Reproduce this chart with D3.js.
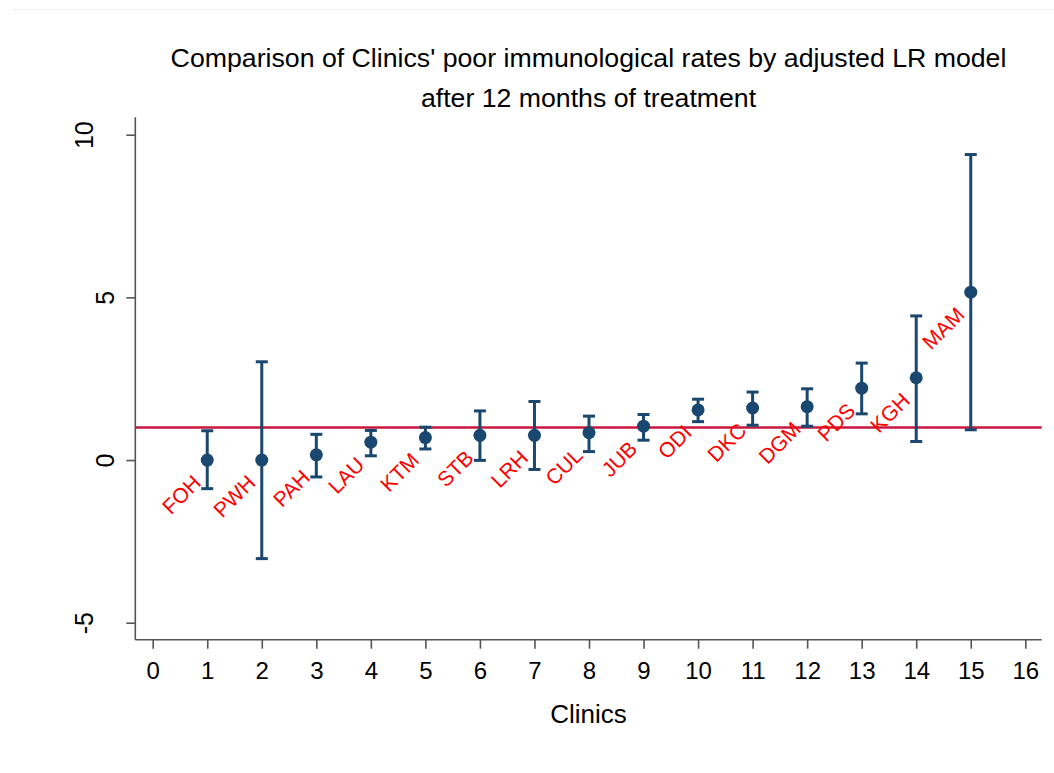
<!DOCTYPE html>
<html>
<head>
<meta charset="utf-8">
<script src="https://cdn.jsdelivr.net/npm/d3@7"></script>
<style>
  body { margin: 0; background: #fff; }
  text { font-family: "Liberation Sans", Arial, sans-serif; }
</style>
</head>
<body>
<div id="chart"></div>
<script>
// clinics, in the order they are plotted (x = 1..15)
var clinics = ["FOH", "PWH", "PAH", "LAU", "KTM", "STB", "LRH", "CUL", "JUB", "ODI", "DKC", "DGM", "PDS", "KGH", "MAM"];
var estimate = [0.00, 0.00, 0.16, 0.55, 0.69, 0.76, 0.76, 0.84, 1.04, 1.54, 1.60, 1.64, 2.21, 2.53, 5.16];
var upper = [0.90, 3.02, 0.79, 0.91, 1.01, 1.51, 1.80, 1.35, 1.40, 1.87, 2.09, 2.19, 2.98, 4.43, 9.39];
var lower = [-0.88, -3.03, -0.52, 0.13, 0.34, -0.01, -0.29, 0.26, 0.61, 1.18, 1.07, 1.04, 1.42, 0.57, 0.93];
var xTicks = d3.range(0, 17);
var yTicks = [-5, 0, 5, 10];
var refValue = 1;

var width = 1054, height = 773;
var navy = "#1a476f";

var svg = d3.select("#chart").append("svg")
    .attr("width", width)
    .attr("height", height);

// faint frame line at the top
svg.append("line")
    .attr("x1", 13).attr("x2", width)
    .attr("y1", 9.5).attr("y2", 9.5)
    .style("stroke", "#efefef");

var x = d3.scaleLinear().domain([0, 16]).range([152.7, 1025.3]);
var y = d3.scaleLinear().domain([-5, 10]).range([622.7, 134.7]);

var plotLeft = 135.3, plotRight = 1041.7, plotTop = 117.3, plotBottom = 639.7;

// y axis
var yAxis = svg.append("g")
    .attr("transform", "translate(" + plotLeft + ",0)")
    .call(d3.axisLeft(y).tickValues(yTicks).tickSize(9).tickSizeOuter(0).tickFormat(""));
yAxis.select(".domain").attr("d", "M0," + plotTop + "V" + plotBottom);

yAxis.selectAll(".tick").append("text")
    .attr("transform", function (d) {
        var s = String(d);
        var bx = -21 - 21.5 * (s.length - 1);
        return "translate(" + bx + ",0) rotate(-90)";
    })
    .attr("text-anchor", "middle")
    .attr("fill", "#000")
    .style("font-size", "25px")
    .text(function (d) { return d; });

// x axis
var xAxis = svg.append("g")
    .attr("transform", "translate(0," + plotBottom + ")")
    .call(d3.axisBottom(x).tickValues(xTicks).tickSize(9).tickSizeOuter(0).tickPadding(13));
xAxis.select(".domain").attr("d", "M" + plotLeft + ",0H" + plotRight);
xAxis.selectAll(".tick text")
    .style("font-size", "24px")
    .attr("fill", "#000");

svg.selectAll(".domain, .tick line")
    .style("stroke", "#555")
    .style("stroke-width", 1.6);

// reference line
svg.append("line")
    .attr("x1", plotLeft).attr("x2", plotRight)
    .attr("y1", y(refValue)).attr("y2", y(refValue))
    .style("stroke", "#c8173c")
    .style("stroke-width", 2.5);

// error bars
var bars = svg.append("g").selectAll("g")
    .data(clinics)
    .enter()
    .append("g");

bars.append("line")
    .attr("x1", function (d, i) { return x(i + 1); })
    .attr("x2", function (d, i) { return x(i + 1); })
    .attr("y1", function (d, i) { return y(lower[i]); })
    .attr("y2", function (d, i) { return y(upper[i]); })
    .style("stroke", navy)
    .style("stroke-width", 3);

bars.append("line")
    .attr("x1", function (d, i) { return x(i + 1) - 6; })
    .attr("x2", function (d, i) { return x(i + 1) + 6; })
    .attr("y1", function (d, i) { return y(upper[i]); })
    .attr("y2", function (d, i) { return y(upper[i]); })
    .style("stroke", navy)
    .style("stroke-width", 3);

bars.append("line")
    .attr("x1", function (d, i) { return x(i + 1) - 6; })
    .attr("x2", function (d, i) { return x(i + 1) + 6; })
    .attr("y1", function (d, i) { return y(lower[i]); })
    .attr("y2", function (d, i) { return y(lower[i]); })
    .style("stroke", navy)
    .style("stroke-width", 3);

bars.append("circle")
    .attr("cx", function (d, i) { return x(i + 1); })
    .attr("cy", function (d, i) { return y(estimate[i]); })
    .attr("r", 6.5)
    .style("fill", navy);

// clinic labels, rotated 45 degrees, below-left of each point
bars.append("text")
    .attr("transform", function (d, i) {
        return "translate(" + (x(i + 1) - 5) + "," + (y(estimate[i]) + 24) + ") rotate(-45)";
    })
    .attr("text-anchor", "end")
    .style("font-size", "21px")
    .style("fill", "#ff0000")
    .text(function (d) { return d; });

// titles
svg.append("text")
    .attr("x", (plotLeft + plotRight) / 2)
    .attr("y", 67.3)
    .attr("text-anchor", "middle")
    .style("font-size", "26.7px")
    .text("Comparison of Clinics' poor immunological rates by adjusted LR model");

svg.append("text")
    .attr("x", (plotLeft + plotRight) / 2)
    .attr("y", 107.3)
    .attr("text-anchor", "middle")
    .style("font-size", "26.7px")
    .text("after 12 months of treatment");

svg.append("text")
    .attr("x", (plotLeft + plotRight) / 2)
    .attr("y", 723)
    .attr("text-anchor", "middle")
    .style("font-size", "26px")
    .text("Clinics");
</script>
</body>
</html>
